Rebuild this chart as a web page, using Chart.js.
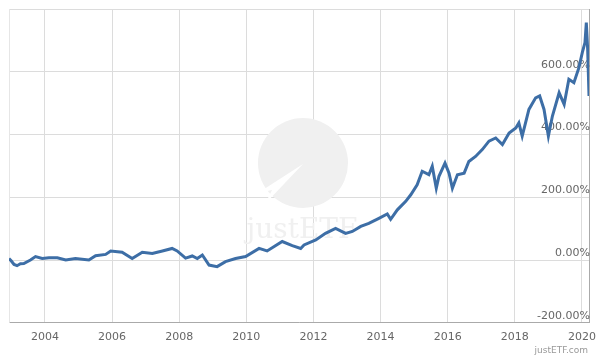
<!DOCTYPE html>
<html>
<head>
<meta charset="utf-8">
<title>justETF performance</title>
<script src="https://cdn.jsdelivr.net/npm/chart.js@4"></script>
<style>
  body { margin: 0; background: #fff; }
  #wrap { width: 600px; height: 360px; position: relative; }
</style>
</head>
<body>
<div id="wrap"><canvas id="myChart" width="600" height="360"></canvas></div>
<script>
// years as decimal dates, returns in percent
const years = [
  2002.93, 2003.00, 2003.08, 2003.17, 2003.27, 2003.37, 2003.57, 2003.72, 2003.92, 2004.12, 2004.37, 2004.62,
  2004.91, 2005.31, 2005.51, 2005.81, 2005.96, 2006.30, 2006.60, 2006.90, 2007.20, 2007.50,
  2007.79, 2007.94, 2008.19, 2008.39, 2008.54, 2008.69, 2008.89, 2009.13, 2009.38, 2009.68,
  2009.98, 2010.38, 2010.62, 2011.07, 2011.37, 2011.62, 2011.72, 2012.07, 2012.36, 2012.66,
  2012.96, 2013.16, 2013.41, 2013.65, 2013.95, 2014.20, 2014.30, 2014.50, 2014.75, 2014.90,
  2015.09, 2015.24, 2015.44, 2015.54, 2015.66, 2015.74, 2015.92, 2016.04, 2016.14, 2016.29,
  2016.49, 2016.63, 2016.83, 2017.03, 2017.23, 2017.43, 2017.63, 2017.83, 2018.03, 2018.12,
  2018.22, 2018.42, 2018.62, 2018.74, 2018.87, 2019.00, 2019.12, 2019.32, 2019.47, 2019.61,
  2019.76, 2019.91, 2020.01, 2020.09, 2020.13, 2020.17, 2020.21
];
const returns = [
  5, -3, -14, -18, -12, -11, 0, 11, 5, 7, 7, 0,
  5, 0, 14, 18, 29, 25, 5, 25, 21, 29,
  37, 29, 6, 13, 5, 16, -16, -21, -5, 5,
  11, 37, 29, 59, 46, 37, 48, 64, 85, 101,
  85, 91, 107, 117, 133, 147, 130, 160, 187, 208,
  240, 283, 272, 299, 229, 267, 309, 277, 229, 272,
  277, 314, 330, 352, 379, 389, 368, 405, 421, 437,
  395, 480, 517, 523, 480, 395, 459, 533, 496, 576,
  565, 613, 661, 693, 757, 672, 523
];

const xTicks = [2004, 2006, 2008, 2010, 2012, 2014, 2016, 2018, 2020];
const yTicks = [-200, 0, 200, 400, 600, 800];

const points = years.map((yr, i) => ({ x: yr, y: returns[i] }));

// light logo in the middle + footer text
const watermark = {
  id: 'watermark',
  beforeDatasetsDraw(chart) {
    const ctx = chart.ctx;
    ctx.save();
    ctx.fillStyle = '#f0f0f0';
    ctx.beginPath();
    ctx.arc(303, 163, 45, 0, Math.PI * 2);
    ctx.fill();
    // white arrow cut into the disc
    ctx.fillStyle = '#fff';
    ctx.beginPath();
    ctx.moveTo(258, 193);
    ctx.lineTo(303, 164);
    ctx.lineTo(265, 204);
    ctx.lineTo(272, 190);
    ctx.closePath();
    ctx.fill();
    ctx.fillStyle = '#f0f0f0';
    ctx.font = '28px "DejaVu Serif", serif';
    ctx.textAlign = 'center';
    ctx.textBaseline = 'middle';
    ctx.fillText('justETF', 302, 231);
    // left edge of the plot
    const a = chart.chartArea;
    ctx.strokeStyle = '#e6e6e6';
    ctx.lineWidth = 1;
    ctx.beginPath();
    ctx.moveTo(a.left + 0.5, a.top);
    ctx.lineTo(a.left + 0.5, a.bottom);
    ctx.stroke();
    ctx.restore();
  },
  afterDraw(chart) {
    const ctx = chart.ctx;
    ctx.save();
    ctx.fillStyle = '#999';
    ctx.font = '9px "DejaVu Sans", sans-serif';
    ctx.textAlign = 'right';
    ctx.textBaseline = 'middle';
    ctx.fillText('justETF.com', 588, 351);
    ctx.restore();
  }
};

const myChart = document.getElementById('myChart');

let lineChart = new Chart(myChart, {
  type: 'line',
  data: {
    datasets: [{
      data: points,
      borderColor: '#3d6ea6',
      borderWidth: 3,
      pointRadius: 0,
      tension: 0,
      fill: false
    }]
  },
  options: {
    responsive: false,
    animation: false,
    layout: { padding: { left: 9, right: 9, top: 9, bottom: 8 } },
    plugins: { legend: { display: false }, tooltip: { enabled: false } },
    scales: {
      x: {
        type: 'linear',
        min: 2002.93,
        max: 2020.21,
        afterBuildTicks: axis => { axis.ticks = xTicks.map(v => ({ value: v })); },
        afterFit: axis => { axis.paddingLeft = 0; axis.paddingRight = 0; },
        grid: { color: '#dcdcdc', drawTicks: false },
        border: { color: '#aaa' },
        ticks: {
          padding: 8,
          color: '#666',
          font: { family: 'DejaVu Sans', size: 11 },
          callback: v => String(v)
        }
      },
      y: {
        position: 'right',
        min: -200,
        max: 800,
        afterBuildTicks: axis => { axis.ticks = yTicks.map(v => ({ value: v })); },
        grid: { color: '#dcdcdc', drawTicks: false },
        border: { color: '#aaa' },
        ticks: {
          mirror: true,
          padding: 1,
          labelOffset: -7,
          color: '#666',
          font: { family: 'DejaVu Sans', size: 11 },
          callback: v => (v === 800 ? '' : v.toFixed(2) + '%')
        }
      }
    }
  },
  plugins: [watermark]
});
</script>
</body>
</html>
